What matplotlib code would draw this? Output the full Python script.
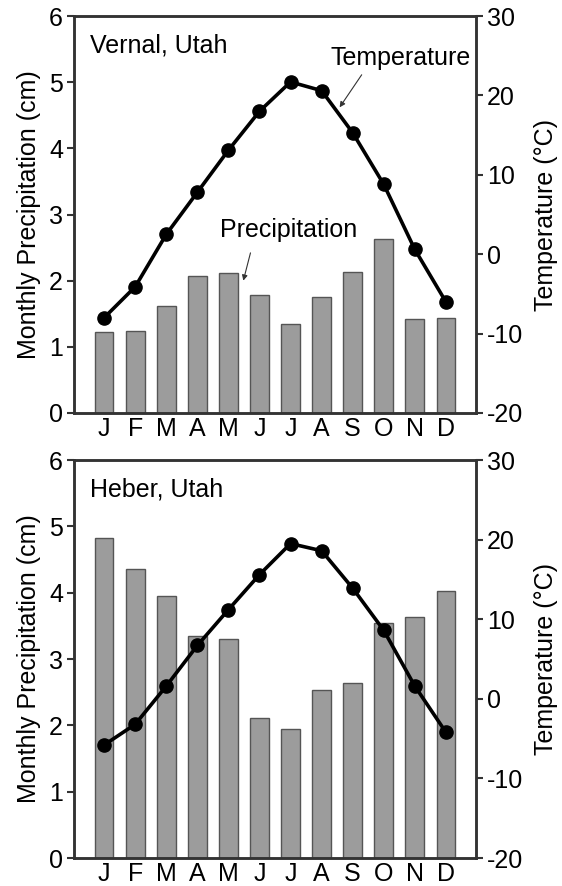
import numpy as np
import matplotlib.pyplot as plt

plt.rcParams['font.family'] = ['Liberation Sans', 'DejaVu Sans']
plt.rcParams['axes.unicode_minus'] = False

months = ['J', 'F', 'M', 'A', 'M', 'J', 'J', 'A', 'S', 'O', 'N', 'D']

# Vernal, Utah
vernal_precip = [1.23, 1.24, 1.61, 2.07, 2.12, 1.79, 1.34, 1.75, 2.13, 2.63, 1.42, 1.44]
vernal_temp = [-8.0, -4.1, 2.5, 7.8, 13.1, 18.0, 21.7, 20.6, 15.3, 8.8, 0.6, -6.0]

# Heber, Utah
heber_precip = [4.82, 4.36, 3.95, 3.34, 3.30, 2.11, 1.95, 2.53, 2.64, 3.54, 3.64, 4.02]
heber_temp = [-5.8, -3.2, 1.6, 6.7, 11.2, 15.6, 19.5, 18.6, 13.9, 8.6, 1.6, -4.2]

x = np.arange(len(months))
spine_col = '#333333'
fs = 18

fig = plt.figure(figsize=(5.62, 8.86), dpi=100)


def panel(rect, precip, temp, station):
    ax = fig.add_axes(rect)
    ax.bar(x, precip, width=0.6, color='#9c9c9c', edgecolor='#555555', linewidth=1.0)
    ax.set_xlim(-0.97, 11.97)
    ax.set_ylim(0, 6)
    ax.set_yticks(range(7))
    ax.set_xticks(x)
    ax.set_xticklabels(months)
    ax.tick_params(axis='x', length=0, labelsize=fs, pad=3)
    ax.tick_params(axis='y', direction='out', length=5, width=1.5, colors=spine_col,
                   labelcolor='black', labelsize=fs, pad=3)
    ax.set_ylabel('Monthly Precipitation (cm)', fontsize=fs, labelpad=6)
    ax.text(0.04, 0.925, station, transform=ax.transAxes, fontsize=fs, va='center')

    ax2 = ax.twinx()
    ax2.plot(x, temp, color='black', linewidth=2.6, marker='o', markersize=9.5)
    ax2.set_ylim(-20, 30)
    ax2.set_yticks(range(-20, 31, 10))
    ax2.tick_params(axis='y', direction='out', length=5, width=1.5, colors=spine_col,
                    labelcolor='black', labelsize=fs, pad=3)
    ax2.set_ylabel('Temperature (°C)', fontsize=fs, labelpad=8)
    for a in (ax, ax2):
        for s in a.spines.values():
            s.set_color(spine_col)
            s.set_linewidth(1.8)
    return ax, ax2


ax_v, ax_v2 = panel([0.1317, 0.5339, 0.7153, 0.448], vernal_precip, vernal_temp, 'Vernal, Utah')
ax_h, ax_h2 = panel([0.1317, 0.0316, 0.7153, 0.4492], heber_precip, heber_temp, 'Heber, Utah')

# series labels with thin pointer arrows
arrow = dict(arrowstyle='-|>', mutation_scale=8, color='#333333', linewidth=0.8,
             shrinkA=0, shrinkB=0)
ax_v2.text(9.55, 24.7, 'Temperature', fontsize=fs, ha='center', va='center')
ax_v2.annotate('', xy=(7.58, 18.5), xytext=(8.29, 22.6), arrowprops=arrow)
ax_v.text(5.93, 2.76, 'Precipitation', fontsize=fs, ha='center', va='center')
ax_v.annotate('', xy=(4.48, 2.0), xytext=(4.71, 2.42), arrowprops=arrow)

fig.savefig('out.png', dpi=100)
